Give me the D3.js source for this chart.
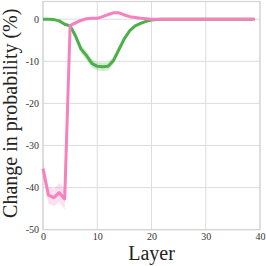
<!DOCTYPE html>
<html>
<head>
<meta charset="utf-8">
<script src="https://cdn.jsdelivr.net/npm/d3@7"></script>
<style>
  body { margin: 0; background: #fff; }
  svg text { font-family: "Liberation Serif", "DejaVu Serif", serif; }
</style>
</head>
<body>
<svg class="mysvg"></svg>
<script>
// layer index 0..39
const layers = d3.range(40);

// change in probability (%) per layer
const pinkValues = [-35.5, -41.8, -42.4, -41.2, -42.7, -1.5, -0.9, -0.3, 0.1, 0.2,
  0.2, 0.6, 1.1, 1.5, 1.5, 1.0, 0.6, 0.4, 0.2, 0.1,
  0, 0, 0, 0, 0, 0, 0, 0, 0, 0,
  0, 0, 0, 0, 0, 0, 0, 0, 0, 0];
const pinkSpread = [2, 2, 2, 2.3, 2.5, 0.5, 0.4, 0.3, 0.3, 0.3,
  0.3, 0.3, 0.3, 0.3, 0.3, 0.3, 0.2, 0.2, 0.2, 0.1,
  0.1, 0.1, 0.1, 0.1, 0.1, 0.1, 0.1, 0.1, 0.1, 0.1,
  0.1, 0.1, 0.1, 0.1, 0.1, 0.1, 0.1, 0.1, 0.1, 0.1];

const greenValues = [0, 0, -0.1, -0.4, -1.2, -1.6, -4, -7.1, -8.6, -10.5,
  -11.2, -11.3, -11.2, -9.8, -7.2, -4.6, -2.7, -1.6, -1.0, -0.5,
  -0.2, -0.1, 0, 0, 0, 0, 0, 0, 0, 0,
  0, 0, 0, 0, 0, 0, 0, 0, 0, 0];
const greenSpread = [0.1, 0.1, 0.1, 0.2, 0.3, 0.4, 0.8, 1, 1, 1,
  1, 1, 1, 0.9, 0.7, 0.5, 0.4, 0.3, 0.2, 0.2,
  0.1, 0.1, 0.1, 0.1, 0.1, 0.1, 0.1, 0.1, 0.1, 0.1,
  0.1, 0.1, 0.1, 0.1, 0.1, 0.1, 0.1, 0.1, 0.1, 0.1];

const xTicks = [0, 10, 20, 30, 40];
const yTicks = [0, -10, -20, -30, -40, -50];

const width = 266, height = 266;
const plot = { left: 43, right: 260, top: 1.5, bottom: 229.7 };

const svg = d3.select(".mysvg").attr("width", width).attr("height", height);

const xScale = d3.scaleLinear().domain([0, 40]).range([plot.left, plot.right]);
const yScale = d3.scaleLinear().domain([-50, 4.2]).range([plot.bottom, plot.top]);

// grid
svg.append("g")
  .selectAll("line")
  .data(xTicks)
  .enter()
  .append("line")
  .attr("x1", (d) => xScale(d))
  .attr("x2", (d) => xScale(d))
  .attr("y1", plot.top)
  .attr("y2", plot.bottom)
  .attr("stroke", "#dcdcdc")
  .attr("stroke-width", 1);

svg.append("g")
  .selectAll("line")
  .data(yTicks)
  .enter()
  .append("line")
  .attr("x1", plot.left)
  .attr("x2", plot.right)
  .attr("y1", (d) => yScale(d))
  .attr("y2", (d) => yScale(d))
  .attr("stroke", "#dcdcdc")
  .attr("stroke-width", 1);

// frame
svg.append("rect")
  .attr("x", plot.left)
  .attr("y", plot.top)
  .attr("width", plot.right - plot.left)
  .attr("height", plot.bottom - plot.top)
  .attr("fill", "none")
  .attr("stroke", "#d4d4d4")
  .attr("stroke-width", 1.2);

// bands + lines
const series = [
  { values: greenValues, spread: greenSpread, color: "#4daf4a" },
  { values: pinkValues, spread: pinkSpread, color: "#f781bf" },
];

const area = d3.area()
  .x((d) => xScale(d.layer))
  .y0((d) => yScale(d.value - d.spread))
  .y1((d) => yScale(d.value + d.spread));

const line = d3.line()
  .x((d) => xScale(d.layer))
  .y((d) => yScale(d.value));

series.forEach((s) => {
  const rows = layers.map((l, i) => ({ layer: l, value: s.values[i], spread: s.spread[i] }));
  svg.append("path")
    .datum(rows)
    .attr("d", area)
    .attr("fill", s.color)
    .attr("opacity", 0.25);
  svg.append("path")
    .datum(rows)
    .attr("d", line)
    .attr("fill", "none")
    .attr("stroke", s.color)
    .attr("stroke-width", 3)
    .attr("stroke-linejoin", "round");
});

// axes
const xAxis = svg.append("g")
  .attr("transform", `translate(0,${plot.bottom})`)
  .call(d3.axisBottom(xScale).tickValues(xTicks).tickSize(0).tickPadding(3));
const yAxis = svg.append("g")
  .attr("transform", `translate(${plot.left},0)`)
  .call(d3.axisLeft(yScale).tickValues(yTicks).tickSize(0).tickPadding(4)
    .tickFormat((d) => (d < 0 ? "-" + Math.abs(d) : d)));

[xAxis, yAxis].forEach((a) => {
  a.select(".domain").remove();
  a.selectAll("text")
    .style("font-family", '"Liberation Serif", serif')
    .style("font-size", "10px")
    .attr("fill", "#333");
});

// axis titles
svg.append("text")
  .attr("x", (plot.left + plot.right) / 2)
  .attr("y", 260)
  .attr("text-anchor", "middle")
  .style("font-size", "20px")
  .attr("fill", "#222")
  .text("Layer");

svg.append("text")
  .attr("transform", `translate(17,${(plot.top + 225) / 2}) rotate(-90)`)
  .attr("text-anchor", "middle")
  .style("font-size", "20px")
  .attr("fill", "#222")
  .text("Change in probability (%)");
</script>
</body>
</html>
